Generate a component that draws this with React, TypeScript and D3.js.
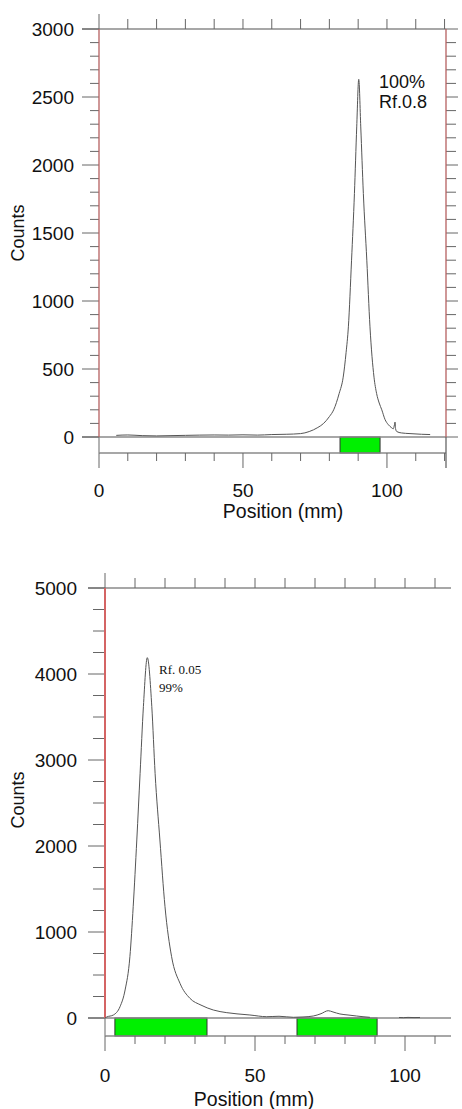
import React, { useEffect, useRef } from 'react';
import * as d3 from 'd3';

const W = 462;
const H = 1109;

// upper scan: single spot, Rf 0.8
const scanAPos = [6, 10, 15, 20, 25, 30, 35, 40, 45, 50, 55, 60, 65, 70, 73, 76, 78, 80, 81.5, 83.4, 84.8, 85.8, 86.6, 87.7, 88.7, 89.5, 90.2, 90.9, 91.8, 93.0, 94.1, 95.5, 96.4, 97.3, 98.2, 99.3, 100.5, 101.5, 102.2, 102.6, 102.8, 103.0, 103.4, 105, 108, 112, 115];
const scanACounts = [12, 15, 10, 8, 10, 12, 14, 15, 14, 16, 14, 18, 20, 25, 40, 70, 100, 150, 200, 320, 440, 620, 810, 1300, 1790, 2280, 2630, 2280, 1790, 1300, 810, 440, 320, 250, 200, 130, 90, 70, 60, 90, 110, 60, 40, 30, 25, 20, 18];
const scanABands = [[83.7, 97.6]];

// lower scan: main spot near origin, small second spot
const scanBPos = [0, 0.6, 2.8, 5, 6.7, 8.3, 9.4, 10.6, 11.7, 12.8, 14.1, 15.6, 16.7, 18.3, 20, 22.2, 25, 28.3, 32, 36.1, 40.6, 44, 48.3, 53.9, 58, 62.8, 66, 69.4, 72, 74.4, 76, 78.3, 81, 83.9, 86, 88.3];
const scanBCounts = [0, 12, 35, 131, 326, 713, 1294, 2070, 2845, 3620, 4190, 3620, 2845, 2070, 1294, 713, 403, 229, 150, 93, 62, 48, 35, 15, 20, 8, 12, 23, 50, 85, 70, 47, 35, 23, 15, 8];
const scanBTailPos = [98, 99.5, 101, 103, 105];
const scanBTailCounts = [6, 4, 7, 5, 6];
const scanBBands = [[3.3, 34], [64, 90.7]];

const xLabelTicks = [0, 50, 100];

const panels = [
  {
    left: 99, right: 446, xMax: 120.5, xTickMax: 120,
    top: 29, zero: 437, strip: 453, yMax: 3000, yMajor: 500, yMinor: 100,
    tickLeft: 82, minorLeft: 90, labelRight: 74, rightAxis: true,
    red: '#b56060', redWidth: 1.3,
    xLabelY: 497, titleX: 283, titleY: 518, countsY: 233,
    series: [{ pos: scanAPos, counts: scanACounts }],
    bands: scanABands,
    note: { x: 379, y: 88, lines: ['100%', 'Rf.0.8'], font: 'Liberation Sans, Arial, sans-serif', size: 18, gap: 20 },
  },
  {
    left: 105, right: 451, xMax: 115.33, xTickMax: 110,
    top: 588, zero: 1018, strip: 1036, yMax: 5000, yMajor: 1000, yMinor: 250,
    tickLeft: 88, minorLeft: 93, labelRight: 77, rightAxis: false,
    red: '#d46464', redWidth: 2,
    xLabelY: 1082, titleX: 254, titleY: 1106, countsY: 800,
    series: [{ pos: scanBPos, counts: scanBCounts }, { pos: scanBTailPos, counts: scanBTailCounts }],
    bands: scanBBands,
    note: { x: 159, y: 674, lines: ['Rf. 0.05', '99%'], font: 'Liberation Serif, Times New Roman, serif', size: 13, gap: 18 },
  },
];

export default function App() {
  const ref = useRef<SVGSVGElement>(null);

  useEffect(() => {
    const svg = d3.select(ref.current);
    svg.selectAll('*').remove();
    const sans = 'Liberation Sans, Arial, sans-serif';
    const axisColor = '#8a8a8a';
    const tickColor = '#666';
    const textColor = '#111';

    panels.forEach(p => {
      const x = d3.scaleLinear().domain([0, p.xMax]).range([p.left, p.right]);
      const y = d3.scaleLinear().domain([0, p.yMax]).range([p.zero, p.top]);
      const g = svg.append('g');

      // green spot bands in the strip under the zero line
      g.selectAll('rect.band')
        .data(p.bands)
        .enter().append('rect')
        .attr('class', 'band')
        .attr('x', d => x(d[0]))
        .attr('y', p.zero)
        .attr('width', d => x(d[1]) - x(d[0]))
        .attr('height', p.strip - p.zero)
        .attr('fill', '#00f000')
        .attr('stroke', '#333')
        .attr('stroke-width', 1);

      // top axis
      g.append('line')
        .attr('x1', p.tickLeft).attr('x2', p.right)
        .attr('y1', p.top).attr('y2', p.top)
        .attr('stroke', axisColor).attr('stroke-width', 1.3);
      const xTicks = d3.range(0, p.xTickMax + 0.1, 10);
      g.selectAll('line.ttick')
        .data(xTicks)
        .enter().append('line')
        .attr('x1', d => x(d)).attr('x2', d => x(d))
        .attr('y1', p.top).attr('y2', d => d === 0 ? p.top - 15 : p.top - 10)
        .attr('stroke', tickColor).attr('stroke-width', 1);

      // zero line and strip
      g.append('line')
        .attr('x1', p.tickLeft).attr('x2', p.right)
        .attr('y1', p.zero).attr('y2', p.zero)
        .attr('stroke', axisColor).attr('stroke-width', 1.3);
      g.append('line')
        .attr('x1', p.left).attr('x2', p.right)
        .attr('y1', p.strip).attr('y2', p.strip)
        .attr('stroke', axisColor).attr('stroke-width', 1.3);
      g.append('line')
        .attr('x1', p.left).attr('x2', p.left)
        .attr('y1', p.zero).attr('y2', p.strip)
        .attr('stroke', axisColor).attr('stroke-width', 1.3);
      if (p.rightAxis) {
        g.append('line')
          .attr('x1', p.right).attr('x2', p.right)
          .attr('y1', p.zero).attr('y2', p.strip + 15)
          .attr('stroke', tickColor).attr('stroke-width', 1.3);
      }

      // bottom ticks
      g.selectAll('line.btick')
        .data(xTicks)
        .enter().append('line')
        .attr('x1', d => x(d)).attr('x2', d => x(d))
        .attr('y1', p.strip).attr('y2', d => d % 50 === 0 ? p.strip + 15 : p.strip + 8)
        .attr('stroke', tickColor).attr('stroke-width', 1);
      g.selectAll('text.xlab')
        .data(xLabelTicks)
        .enter().append('text')
        .attr('x', d => x(d)).attr('y', p.xLabelY)
        .attr('text-anchor', 'middle')
        .attr('font-family', sans).attr('font-size', 19).attr('fill', textColor)
        .text(d => d);
      g.append('text')
        .attr('x', p.titleX).attr('y', p.titleY)
        .attr('text-anchor', 'middle')
        .attr('font-family', sans).attr('font-size', 19.5).attr('fill', textColor)
        .text('Position (mm)');

      // left axis
      const minor = d3.range(0, p.yMax + 1, p.yMinor);
      g.selectAll('line.ytick')
        .data(minor)
        .enter().append('line')
        .attr('x1', d => d % p.yMajor === 0 ? p.tickLeft : p.minorLeft)
        .attr('x2', p.left)
        .attr('y1', d => y(d)).attr('y2', d => y(d))
        .attr('stroke', tickColor).attr('stroke-width', 1);
      g.selectAll('text.ylab')
        .data(d3.range(0, p.yMax + 1, p.yMajor))
        .enter().append('text')
        .attr('x', p.labelRight).attr('y', d => y(d))
        .attr('dy', '0.36em')
        .attr('text-anchor', 'end')
        .attr('font-family', sans).attr('font-size', 19).attr('fill', textColor)
        .text(d => d);
      g.append('line')
        .attr('x1', p.left).attr('x2', p.left)
        .attr('y1', p.top).attr('y2', p.zero)
        .attr('stroke', p.red).attr('stroke-width', p.redWidth);
      g.append('text')
        .attr('transform', `translate(24,${p.countsY}) rotate(-90)`)
        .attr('text-anchor', 'middle')
        .attr('font-family', sans).attr('font-size', 18).attr('fill', textColor)
        .text('Counts');

      // right axis (upper scan only)
      if (p.rightAxis) {
        g.selectAll('line.rtick')
          .data(minor)
          .enter().append('line')
          .attr('x1', p.right)
          .attr('x2', d => d % p.yMajor === 0 ? p.right + 12 : p.right + 10)
          .attr('y1', d => y(d)).attr('y2', d => y(d))
          .attr('stroke', tickColor).attr('stroke-width', 1);
        g.append('line')
          .attr('x1', p.right).attr('x2', p.right)
          .attr('y1', p.top).attr('y2', p.zero)
          .attr('stroke', p.red).attr('stroke-width', p.redWidth);
      }

      // scan trace
      const trace = d3.line<[number, number]>()
        .x(d => x(d[0]))
        .y(d => y(d[1]))
        .curve(d3.curveMonotoneX);
      p.series.forEach(s => {
        const pts = s.pos.map((v, i) => [v, s.counts[i]] as [number, number]);
        g.append('path')
          .attr('d', trace(pts))
          .attr('fill', 'none')
          .attr('stroke', '#555')
          .attr('stroke-width', 1);
      });

      // annotation
      const note = g.append('text')
        .attr('font-family', p.note.font).attr('font-size', p.note.size).attr('fill', textColor);
      p.note.lines.forEach((t, i) => {
        note.append('tspan')
          .attr('x', p.note.x).attr('y', p.note.y + i * p.note.gap)
          .text(t);
      });
    });
  }, []);

  return (
    <svg ref={ref} width={W} height={H}
      style={{ position: 'absolute', left: 0, top: 0, background: '#fff' }} />
  );
}
